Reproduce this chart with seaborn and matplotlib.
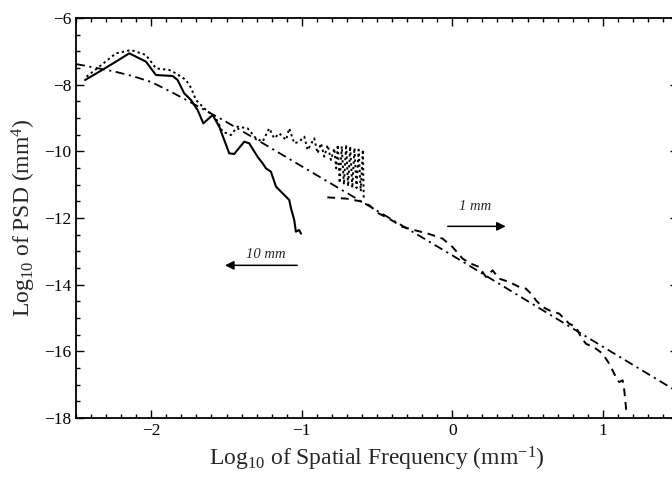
import matplotlib
matplotlib.use("Agg")
import matplotlib.pyplot as plt
from matplotlib.ticker import MultipleLocator
import seaborn as sns
import pandas as pd

# ---- data ----
x_10mm = [-2.44, -2.345, -2.235, -2.146, -2.035, -1.969, -1.858, -1.825, -1.781, -1.736,
          -1.692, -1.654, -1.592, -1.548, -1.482, -1.449, -1.382, -1.349, -1.294, -1.26,
          -1.238, -1.205, -1.171, -1.138, -1.105, -1.083, -1.072, -1.05, -1.039, -1.017, -1.005]
y_10mm = [-7.86, -7.61, -7.31, -7.06, -7.31, -7.71, -7.74, -7.86, -8.26, -8.46,
          -8.76, -9.16, -8.91, -9.26, -10.06, -10.08, -9.71, -9.76, -10.16, -10.36,
          -10.51, -10.61, -11.06, -11.21, -11.36, -11.46, -11.70, -12.06, -12.41, -12.36, -12.47]

x_dot = [-2.43, -2.345, -2.235, -2.135, -2.035, -1.969, -1.88, -1.836, -1.769, -1.735,
         -1.703, -1.636, -1.57, -1.526, -1.47, -1.426, -1.36, -1.304, -1.26, -1.216,
         -1.183, -1.149, -1.105, -1.083, -1.05, -1.017, -0.983, -0.961, -0.917, -0.895,
         -0.872, -0.85, -0.828, -0.806, -0.784, -0.771, -0.761, -0.748, -0.734, -0.720,
         -0.705, -0.692, -0.678, -0.664, -0.650, -0.636, -0.622, -0.608, -0.594, -0.588]
y_dot = [-7.76, -7.46, -7.06, -6.96, -7.11, -7.51, -7.56, -7.66, -7.86, -8.10,
         -8.46, -8.76, -9.01, -9.41, -9.51, -9.26, -9.31, -9.61, -9.71, -9.31,
         -9.61, -9.46, -9.66, -9.31, -9.76, -9.71, -9.56, -9.96, -9.61, -10.06,
         -9.76, -10.16, -9.81, -10.26, -9.91, -10.51, -9.80, -10.95, -9.85, -11.00,
         -9.80, -11.05, -9.85, -11.10, -9.90, -11.10, -9.95, -11.20, -9.95, -11.45]

x_1mm = [-0.83, -0.70, -0.61, -0.55, -0.49, -0.42, -0.334, -0.246, -0.16, -0.064,
         0.002, 0.069, 0.124, 0.18, 0.224, 0.268, 0.312, 0.379, 0.445, 0.49,
         0.534, 0.556, 0.60, 0.645, 0.711, 0.777, 0.822, 0.855, 0.888, 0.955,
         0.999, 1.043, 1.076, 1.098, 1.11, 1.132, 1.143, 1.154, 1.156]
y_1mm = [-11.38, -11.42, -11.50, -11.62, -11.86, -12.02, -12.26, -12.37, -12.47, -12.62,
         -12.87, -13.22, -13.37, -13.47, -13.77, -13.57, -13.82, -13.92, -14.07, -14.12,
         -14.32, -14.47, -14.67, -14.77, -14.87, -15.17, -15.27, -15.57, -15.77, -15.92,
         -16.07, -16.37, -16.67, -16.87, -16.92, -16.87, -17.17, -17.67, -17.85]

x_model = [-2.5, -2.25, -2.125, -2.0, -1.875, -1.75, -1.5, -1.25, -1.0, -0.5, 0.0, 0.5, 1.0, 1.5]
y_model = [-7.38, -7.6, -7.74, -7.92, -8.2, -8.5, -9.12, -9.78, -10.45, -11.78, -13.12, -14.49, -15.86, -17.22]

x_ticks = [-2, -1, 0, 1]
y_ticks = [-18, -16, -14, -12, -10, -8, -6]

# ---- style ----
sns.set_style("ticks")
plt.rcParams["font.family"] = ["Liberation Serif", "DejaVu Serif"]
plt.rcParams["mathtext.fontset"] = "custom"
plt.rcParams["mathtext.rm"] = "Liberation Serif"
plt.rcParams["mathtext.it"] = "Liberation Serif:italic"
plt.rcParams["mathtext.bf"] = "Liberation Serif:bold"

fig = plt.figure(figsize=(6.72, 4.84), dpi=100)
ax = fig.add_axes([76 / 672, 66 / 484, 602 / 672, 400 / 484])

lw = 1.4
sns.lineplot(x=x_model, y=y_model, ax=ax, color="black", lw=1.3, sort=False,
             estimator=None, linestyle=(0, (5, 2.5, 1.2, 2.5)))
sns.lineplot(x=x_dot, y=y_dot, ax=ax, color="black", lw=lw, sort=False,
             estimator=None, linestyle=(0, (1.2, 1.6)))
sns.lineplot(x=x_1mm, y=y_1mm, ax=ax, color="black", lw=lw, sort=False,
             estimator=None, linestyle=(0, (4, 3)))
sns.lineplot(x=x_10mm, y=y_10mm, ax=ax, color="black", lw=1.5, sort=False,
             estimator=None, linestyle="-")

ax.set_xlim(-2.5, 1.5)
ax.set_ylim(-18, -6)
ax.set_xticks(x_ticks)
ax.set_yticks(y_ticks)
ax.xaxis.set_minor_locator(MultipleLocator(0.1))
ax.yaxis.set_minor_locator(MultipleLocator(0.5))
ax.tick_params(which="both", direction="in", top=True, right=True, colors="black",
               labelsize=12.5, width=1.0)
ax.tick_params(which="major", length=6)
ax.tick_params(which="minor", length=3)
for s in ax.spines.values():
    s.set_linewidth(1.3)
    s.set_color("black")
    s.set_visible(True)

ax.set_xlabel(r"Log$_{10}$ of Spatial Frequency (mm$^{-1}$)", fontsize=17, labelpad=4)
ax.set_ylabel(r"Log$_{10}$ of PSD (mm$^{4}$)", fontsize=17, labelpad=4)

# annotations
ax.text(-1.24, -13.28, "10 mm", fontsize=10.5, style="italic", ha="center", va="bottom")
ax.annotate("", xy=(-1.51, -13.42), xytext=(-1.03, -13.42),
            arrowprops=dict(arrowstyle="-|>", color="black", lw=1.1,
                            mutation_scale=13, shrinkA=0, shrinkB=0))
ax.text(0.155, -11.85, "1 mm", fontsize=10.5, style="italic", ha="center", va="bottom")
ax.annotate("", xy=(0.355, -12.25), xytext=(-0.03, -12.25),
            arrowprops=dict(arrowstyle="-|>", color="black", lw=1.1,
                            mutation_scale=13, shrinkA=0, shrinkB=0))

if ax.get_legend() is not None:
    ax.get_legend().remove()

fig.savefig("out.png", dpi=100)
